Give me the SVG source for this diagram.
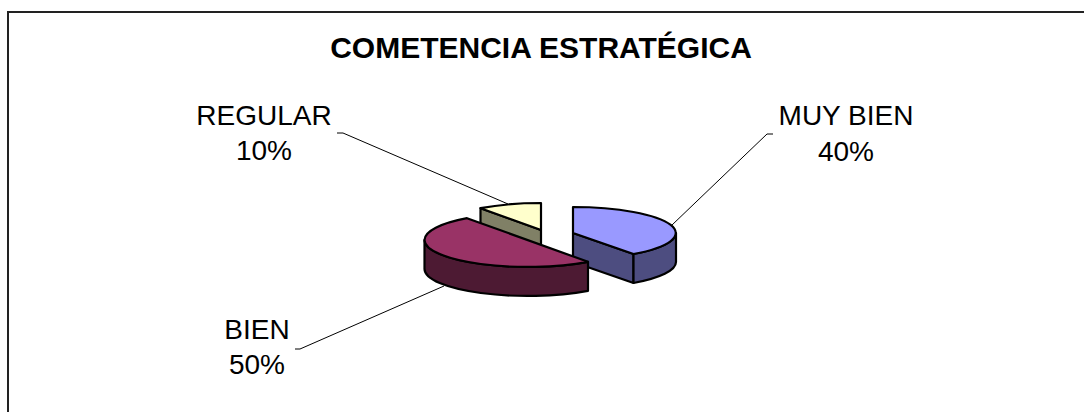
<svg xmlns="http://www.w3.org/2000/svg" width="1084" height="412" viewBox="0 0 1084 412">
<style>
.lbl{font-family:"Liberation Sans",Arial,sans-serif;font-size:28px;fill:#000;text-anchor:middle}
.title{font-family:"Liberation Sans",Arial,sans-serif;font-size:30px;font-weight:bold;fill:#000;text-anchor:middle}
.edge{stroke:#000;stroke-width:2.2;stroke-linejoin:round}
.leader{fill:none;stroke:#000;stroke-width:1}
</style>
<rect x="0" y="0" width="1084" height="412" fill="#fff"/>
<rect x="8" y="12" width="1100" height="420" fill="none" stroke="#222" stroke-width="2"/>
<text class="title" x="541" y="58">COMETENCIA ESTRATÉGICA</text>
<g id="slice-regular">
  <path class="edge" fill="#808066" d="M541 230 L480.5 208.2 L480.5 237.2 L541 259 Z"/>
  <path class="edge" fill="#FFFFCC" d="M541 230 L480.5 208.2 A103 27 0 0 1 541 203 Z"/>
</g>
<g id="slice-muybien">
  <path class="edge" fill="#4D4D80" d="M573 233 L633.5 254 L633.5 283 L573 262 Z"/>
  <path class="edge" fill="#4D4D80" d="M676 233 A103 26 0 0 1 633.5 254 L633.5 283 A103 26 0 0 0 676 262 Z"/>
  <path class="edge" fill="#9999FF" d="M573 233 L573 207 A103 26 0 0 1 633.5 254 Z"/>
</g>
<g id="slice-bien">
  <path class="edge" fill="#4D1A33" d="M588 261.8 A103 27 0 0 1 424.5 240 L424.5 269 A103 27 0 0 0 588 290.8 Z"/>
  <path class="edge" fill="#993366" d="M588 261.8 A103 27 0 0 1 424.5 240 A103 27 0 0 1 467 218.2 Z"/>
</g>
<g id="connectors">
  <polyline class="leader" points="337,133 343,133 508,204"/>
  <polyline class="leader" points="773,134 767,134 672,225"/>
  <polyline class="leader" points="295,349 300,349 444,286"/>
</g>
<g id="label-regular">
  <text class="lbl" x="264" y="125">REGULAR</text>
  <text class="lbl" x="264" y="160">10%</text>
</g>
<g id="label-muybien">
  <text class="lbl" x="846" y="125">MUY BIEN</text>
  <text class="lbl" x="846" y="161">40%</text>
</g>
<g id="label-bien">
  <text class="lbl" x="257" y="339">BIEN</text>
  <text class="lbl" x="257" y="374">50%</text>
</g>
</svg>
